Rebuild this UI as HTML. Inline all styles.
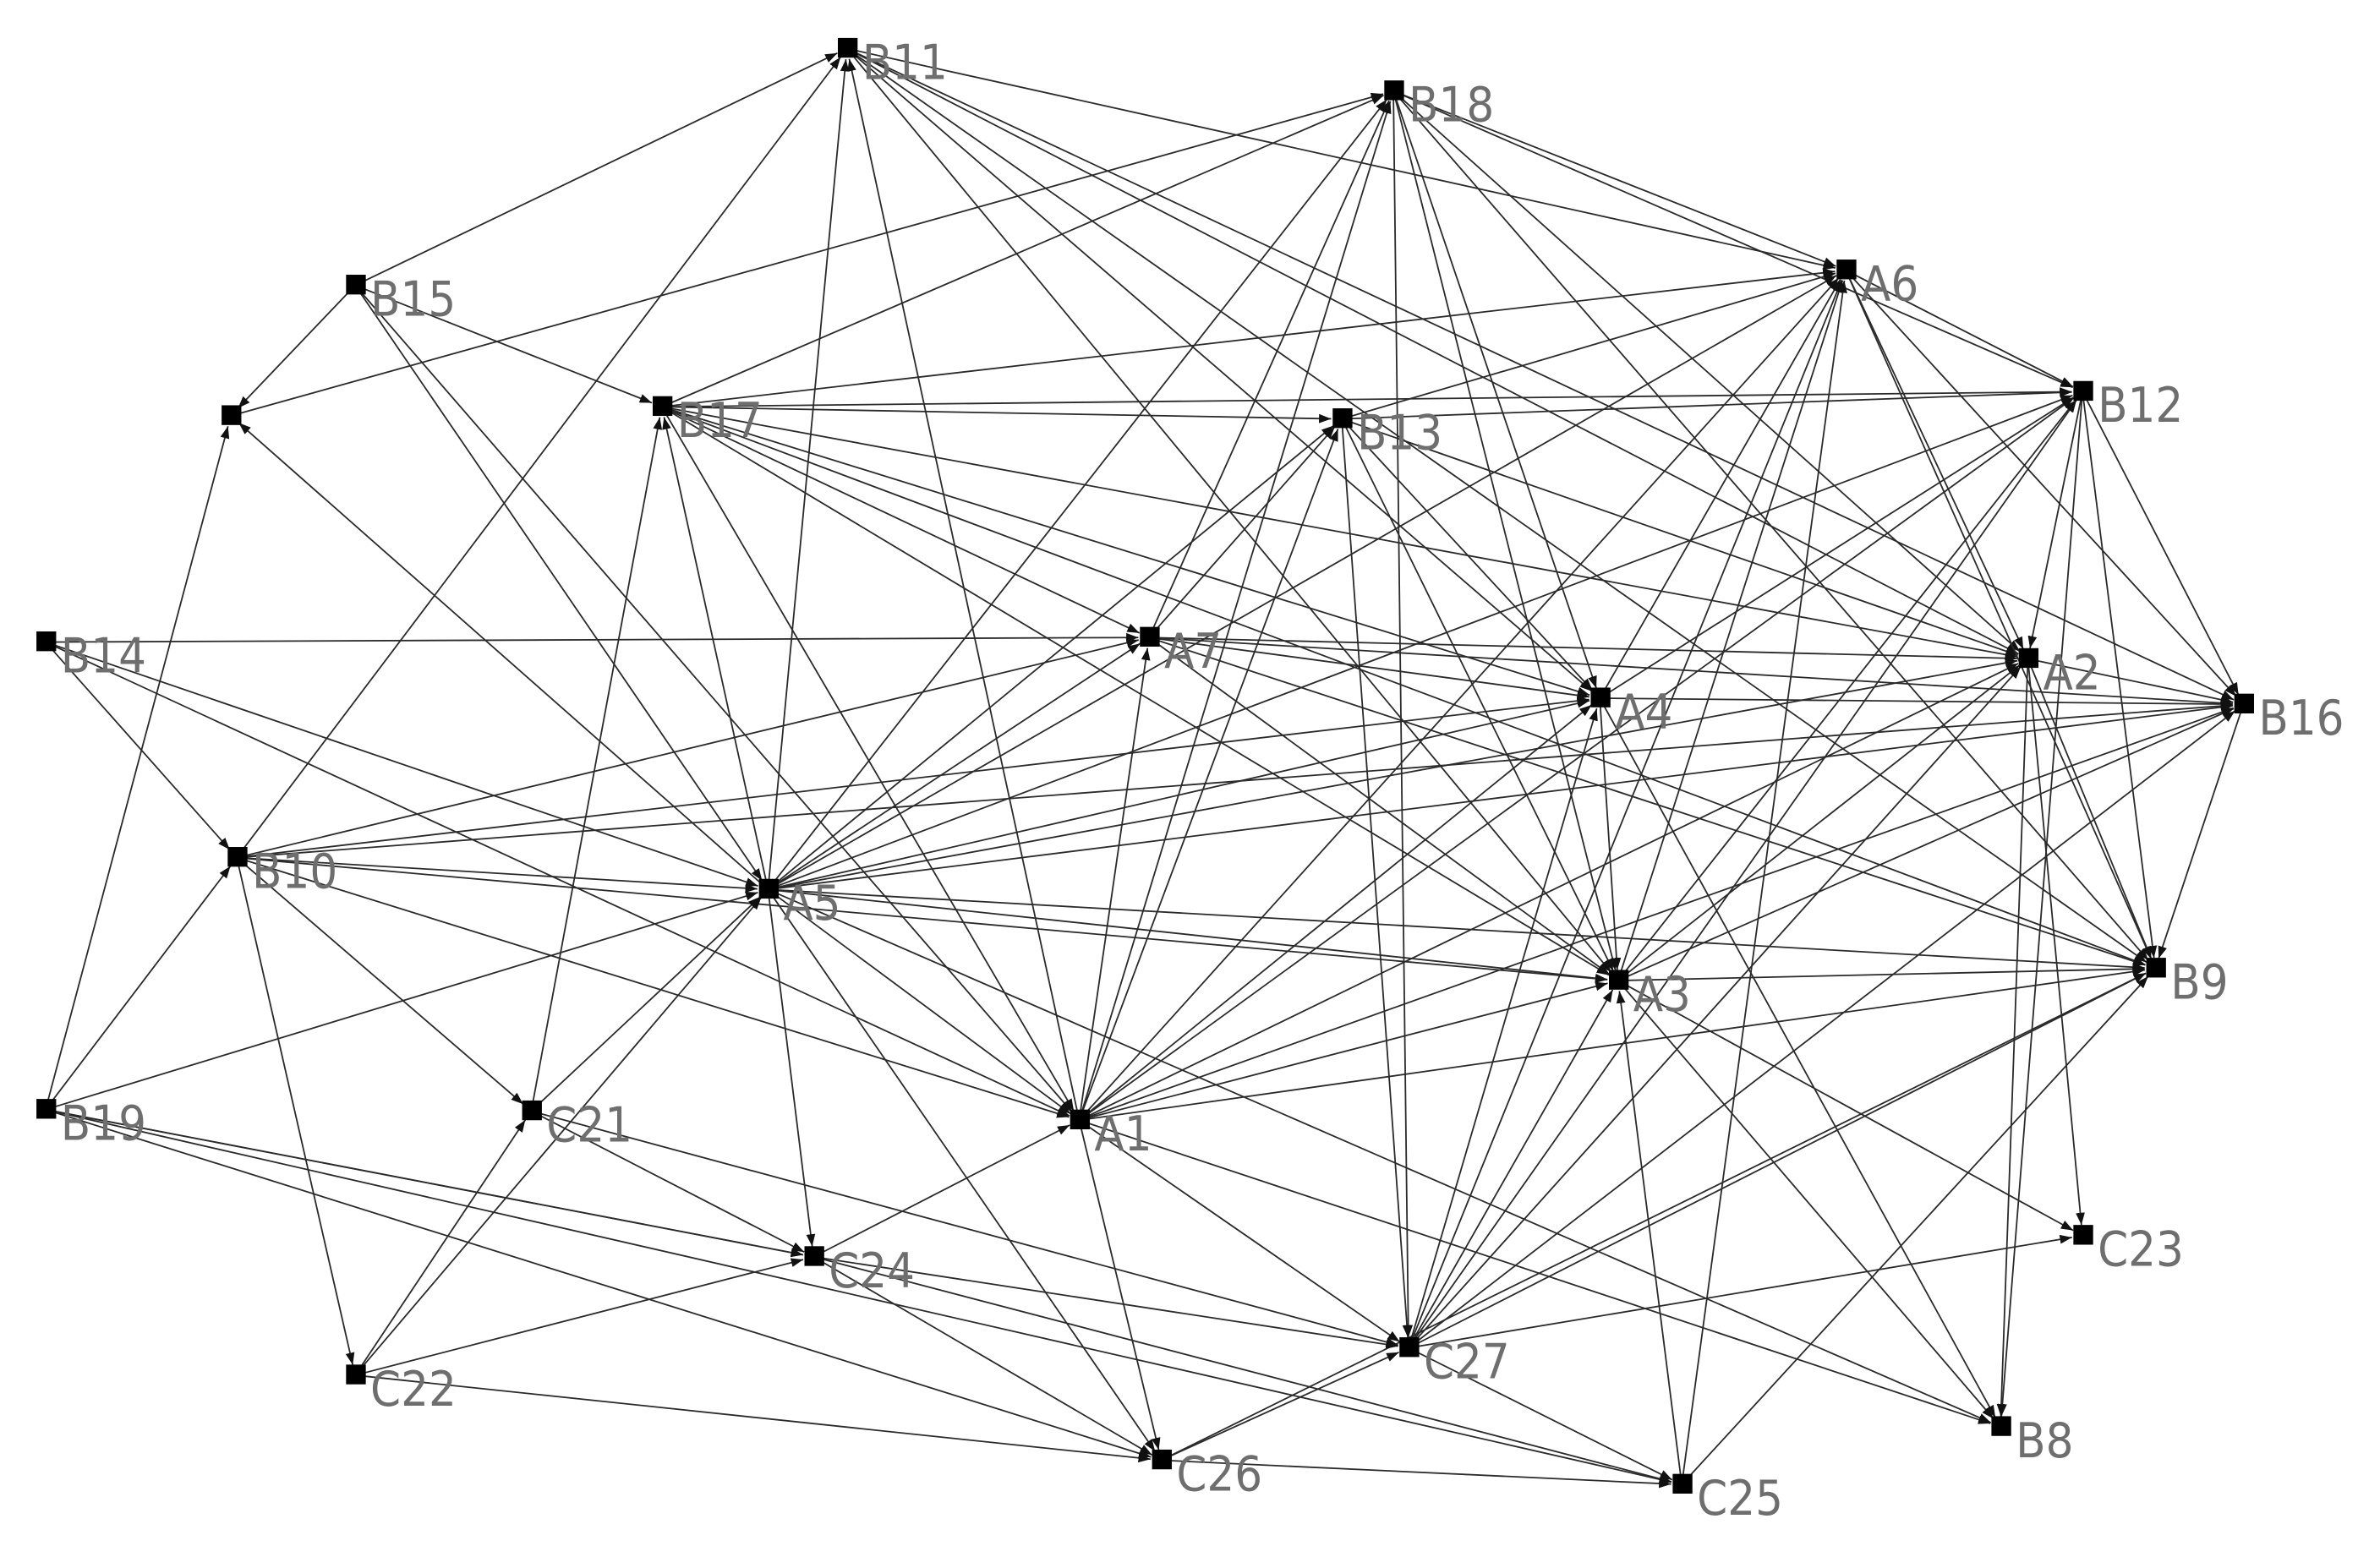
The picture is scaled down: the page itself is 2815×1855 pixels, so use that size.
<!DOCTYPE html>
<html><head><meta charset="utf-8"><style>
html,body{margin:0;padding:0;background:#fff;}
svg{display:block}
text{font-family:"DejaVu Sans Condensed","Liberation Sans",sans-serif;font-size:32px;fill:#6e6e6e}
</style></head><body>
<svg width="2815" height="1855" viewBox="0 0 1568 1033" preserveAspectRatio="none" xmlns="http://www.w3.org/2000/svg">
<defs><marker id="a" markerWidth="8" markerHeight="8" refX="8" refY="4" orient="auto" markerUnits="userSpaceOnUse"><path d="M0,1 L8,4 L0,7z" fill="#111"/></marker></defs>
<g id="edges" stroke="#2a2a2a" stroke-width="1" fill="none"></g>
<g id="nodes"></g>
</svg>
<script>
var N={B11:[558,32],B18:[918,60],B15:[234,188],U:[152,274],B17:[436,268],B13:[884,276],A6:[1216,178],B12:[1372,258],B14:[30,423],A7:[757,420],A2:[1336,434],A4:[1054,460],B16:[1478,464],B10:[156,565],A5:[506,586],A3:[1066,646],B9:[1420,638],B19:[30,731],C21:[350,732],A1:[711,738],C24:[536,828],C23:[1372,814],C27:[928,888],C22:[234,906],C26:[765,962],C25:[1108,978],B8:[1318,940]};
var E="B15-B11 A5-B11 A1-B11 B10-B11 B11-A2 B11-A3 B11-B9 B11-A4 B11-B16 B11-A6 B17-B18 U-B18 A1-B18 A5-B18 A7-B18 B18-A6 B18-A2 B18-A4 B18-A3 B18-C27 B18-B9 B18-B12 B15-U B15-B17 B15-A1 B15-A5 A5-U B19-U B17-B12 B17-B13 B17-A7 B17-A2 B17-A4 B17-B9 B17-A3 B17-A1 A5-B17 C21-B17 B17-A6 A5-B13 A7-B13 B13-A4 B13-A3 B13-C27 B13-A2 B13-B12 B13-A6 A1-B13 A6-A2 A6-B12 A6-B16 A1-A6 A5-A6 C27-A6 A3-A6 A4-A6 A6-B9 C25-A6 B12-A2 B12-B16 B12-B9 A4-B12 A3-B12 C27-B12 A5-B12 A1-B12 B12-B8 B14-A7 B14-A1 B14-B10 B14-A5 A7-A2 A7-A4 A7-A3 A7-B9 B10-A7 A5-A7 A1-A7 A7-B16 A2-B16 A2-B9 A2-C23 A2-B8 A5-A2 C27-A2 A1-A2 A3-A2 A1-A4 A4-A3 C27-A4 A5-A4 A4-B8 B10-A4 A4-B16 A5-B16 A3-B16 B16-B9 A1-B16 C27-B16 B10-B16 B10-A5 B10-A1 B10-C21 B10-C22 B10-A3 A5-A3 A5-A1 A5-C24 A5-C26 A5-B9 B19-A5 C21-A5 C22-A5 A5-B8 A1-A3 A3-B9 C25-A3 A3-C23 C27-A3 A3-B8 A1-B9 C27-B9 C25-B9 C26-B9 B19-B10 B19-C24 B19-C26 B19-C25 C21-C24 C21-C27 C22-C21 A1-C27 A1-C26 C24-A1 A1-B8 C24-C27 C24-C26 C22-C24 C24-C25 C22-C26 C26-C27 C26-C25 C27-C23 C27-C25 B19-C24".split(" ");
var s="",ns="";
E.forEach(function(e){var p=e.split("-"),a=N[p[0]],b=N[p[1]];if(!a||!b)return;var dx=b[0]-a[0],dy=b[1]-a[1],l=Math.hypot(dx,dy),k=(l-7)/l;
s+='<line x1="'+a[0]+'" y1="'+a[1]+'" x2="'+(a[0]+dx*k).toFixed(1)+'" y2="'+(a[1]+dy*k).toFixed(1)+'" marker-end="url(#a)"/>';});
for(var n in N){var p=N[n];ns+='<rect x="'+(p[0]-6)+'" y="'+(p[1]-7)+'" width="13" height="13" fill="#000"/>';if(n!="U")ns+='<text x="'+(p[0]+10)+'" y="'+(p[1]+20)+'">'+n+'</text>';}
document.getElementById("edges").innerHTML=s;document.getElementById("nodes").innerHTML=ns;
</script>
</body></html>
